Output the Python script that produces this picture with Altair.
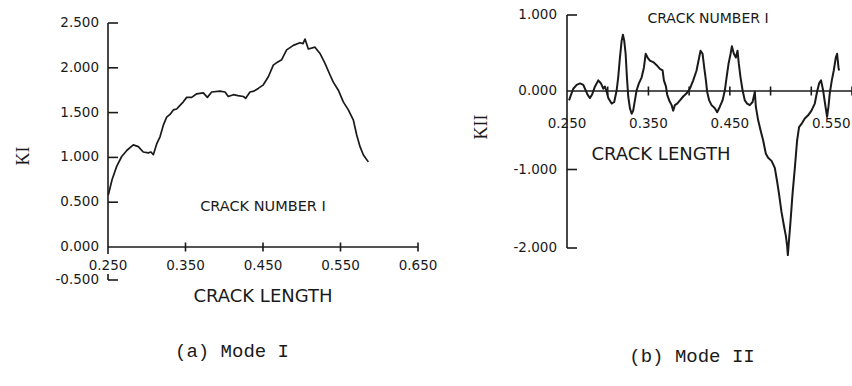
import altair as alt
import pandas as pd

INK = "#1a1a1a"
SANS = "DejaVu Sans"

# ---- Mode I (left panel) : crack length vs KI ----
LEFT_X = [0.2504, 0.2552, 0.2612, 0.2677, 0.2745, 0.2826, 0.2891, 0.2955, 0.3020,
          0.3055, 0.3085, 0.3128, 0.3171, 0.3214, 0.3257, 0.3300, 0.3343, 0.3386,
          0.3429, 0.3472, 0.3515, 0.3580, 0.3645, 0.3730, 0.3782, 0.3838, 0.3945,
          0.4010, 0.4052, 0.4117, 0.4177, 0.4246, 0.4277, 0.4332, 0.4384, 0.4439,
          0.4504, 0.4569, 0.4633, 0.4681, 0.4741, 0.4805, 0.4891, 0.4977, 0.5016,
          0.5042, 0.5085, 0.5171, 0.5235, 0.5300, 0.5365, 0.5407, 0.5472, 0.5536,
          0.5601, 0.5665, 0.5709, 0.5752, 0.5794, 0.5859]
LEFT_KI = [0.58, 0.75, 0.90, 1.01, 1.08, 1.14, 1.12, 1.06, 1.05,
           1.06, 1.03, 1.15, 1.23, 1.36, 1.45, 1.48, 1.53, 1.54,
           1.58, 1.62, 1.67, 1.67, 1.71, 1.72, 1.67, 1.73, 1.74,
           1.73, 1.68, 1.70, 1.69, 1.68, 1.66, 1.73, 1.74, 1.77,
           1.81, 1.90, 2.03, 2.06, 2.09, 2.20, 2.25, 2.28, 2.27,
           2.32, 2.21, 2.23, 2.16, 2.05, 1.92, 1.84, 1.75, 1.62,
           1.53, 1.42, 1.25, 1.12, 1.03, 0.95]

# ---- Mode II (right panel) : crack length vs KII ----
RIGHT_X = [0.2525, 0.2549, 0.2577, 0.2619, 0.2660, 0.2700, 0.2729, 0.2754, 0.2782,
           0.2810, 0.2844, 0.2884, 0.2917, 0.2945, 0.2966, 0.2987, 0.3007, 0.3048,
           0.3080, 0.3110, 0.3129, 0.3150, 0.3171, 0.3187, 0.3203, 0.3220, 0.3236,
           0.3252, 0.3273, 0.3294, 0.3313, 0.3334, 0.3355, 0.3383, 0.3417, 0.3445,
           0.3466, 0.3490, 0.3518, 0.3559, 0.3601, 0.3641, 0.3674, 0.3690, 0.3715,
           0.3731, 0.3755, 0.3785, 0.3804, 0.3825, 0.3853, 0.3887, 0.3927, 0.3969,
           0.4009, 0.4050, 0.4091, 0.4123, 0.4140, 0.4165, 0.4185, 0.4206, 0.4221,
           0.4246, 0.4275, 0.4316, 0.4344, 0.4377, 0.4410, 0.4439, 0.4460, 0.4484,
           0.4509, 0.4525, 0.4549, 0.4574, 0.4594, 0.4610, 0.4631, 0.4656, 0.4684,
           0.4712, 0.4745, 0.4779, 0.4807, 0.4819, 0.4847, 0.4877, 0.4909, 0.4942,
           0.4970, 0.5012, 0.5052, 0.5080, 0.5105, 0.5134, 0.5163, 0.5187, 0.5203,
           0.5212, 0.5228, 0.5245, 0.5269, 0.5298, 0.5326, 0.5350, 0.5380, 0.5420,
           0.5461, 0.5502, 0.5543, 0.5571, 0.5596, 0.5620, 0.5645, 0.5669, 0.5694,
           0.5711, 0.5727, 0.5752, 0.5776, 0.5801, 0.5817, 0.5834, 0.5841]
RIGHT_KII = [-0.12, -0.05, 0.03, 0.08, 0.10, 0.08, 0.01, -0.05, -0.09,
             -0.04, 0.06, 0.14, 0.10, 0.03, 0.06, -0.01, -0.09, -0.16,
             -0.14, 0.01, 0.18, 0.44, 0.66, 0.74, 0.66, 0.49, 0.18,
             -0.07, -0.22, -0.29, -0.25, -0.12, 0.01, 0.10, 0.18, 0.31,
             0.49, 0.44, 0.40, 0.38, 0.34, 0.29, 0.27, 0.14, 0.06,
             -0.05, -0.12, -0.18, -0.25, -0.18, -0.16, -0.12, -0.07, -0.03,
             0.03, 0.14, 0.27, 0.44, 0.53, 0.49, 0.31, 0.14, -0.01,
             -0.12, -0.18, -0.22, -0.27, -0.20, -0.12, 0.01, 0.18, 0.36,
             0.49, 0.59, 0.49, 0.44, 0.53, 0.36, 0.18, 0.01, -0.12,
             -0.16, -0.18, -0.14, -0.01, -0.20, -0.37, -0.50, -0.63, -0.80,
             -0.85, -0.89, -0.98, -1.15, -1.32, -1.54, -1.71, -1.84, -1.97,
             -2.09, -1.88, -1.66, -1.32, -0.98, -0.63, -0.46, -0.42, -0.35,
             -0.31, -0.25, -0.16, -0.01, 0.10, 0.14, 0.01, -0.16, -0.33,
             -0.20, -0.03, 0.14, 0.27, 0.44, 0.49, 0.31, 0.27]

# ---- axis ticks and labels ----
LEFT_Y_TICKS = [-0.5, 0.0, 0.5, 1.0, 1.5, 2.0, 2.5]
LEFT_Y_LABELS = ["-0.500", "0.000", "0.500", "1.000", "1.500", "2.000", "2.500"]
LEFT_Y_TICK_MARKS = [-0.5, 0.5, 1.0, 1.5, 2.0, 2.5]
LEFT_X_TICKS = [0.25, 0.35, 0.45, 0.55, 0.65]
LEFT_X_LABELS = ["0.250", "0.350", "0.450", "0.550", "0.650"]
LEFT_X_TICK_MARKS = [0.35, 0.45, 0.55, 0.65]
RIGHT_Y_TICKS = [-2.0, -1.0, 0.0, 1.0]
RIGHT_Y_LABELS = ["-2.000", "-1.000", "0.000", "1.000"]
RIGHT_Y_TICK_MARKS = [-2.0, -1.0, 1.0]
RIGHT_X_TICKS = [0.25, 0.35, 0.45]
RIGHT_X_LABELS = ["0.250", "0.350", "0.450"]
RIGHT_X_TICKS_SHIFTED = [0.55]
RIGHT_X_LABELS_SHIFTED = ["0.550"]
RIGHT_X_TICK_MARKS = [0.30, 0.35, 0.40, 0.45, 0.50, 0.55, 0.60]

# scales placing each panel on the page
LXS = alt.Scale(domain=[0.25, 0.65], range=[108, 418], nice=False, zero=False)
LYS = alt.Scale(domain=[-0.5, 0.0, 2.5], range=[280, 247, 23], nice=False, zero=False)
RXS = alt.Scale(domain=[0.25, 0.60], range=[567, 852], nice=False, zero=False)
RYS = alt.Scale(domain=[-2.0, 0.0, 1.0], range=[248, 91, 15], nice=False, zero=False)


def enc_x(s, field="x"):
    return alt.X(f"{field}:Q", scale=s, axis=None)


def enc_y(s, field="y"):
    return alt.Y(f"{field}:Q", scale=s, axis=None)


def panel(xs, ys, xv, yv, y_ticks, y_labels, y_marks, x_ticks, x_labels, x_marks,
          x_end, y_lo, y_hi, x_label_dy, y_label_dx, width):
    curve = alt.Chart(pd.DataFrame({"x": xv, "y": yv})).mark_line(
        color=INK, strokeWidth=width, strokeJoin="round"
    ).encode(x=enc_x(xs), y=enc_y(ys))

    yaxis = alt.Chart(pd.DataFrame({"x": [0.25], "y": [y_lo], "y2": [y_hi]})).mark_rule(
        color=INK, strokeWidth=1.6
    ).encode(x=enc_x(xs), y=enc_y(ys), y2=alt.Y2("y2:Q"))

    xaxis = alt.Chart(pd.DataFrame({"x": [0.25], "x2": [x_end], "y": [0.0]})).mark_rule(
        color=INK, strokeWidth=1.6
    ).encode(x=enc_x(xs), x2=alt.X2("x2:Q"), y=enc_y(ys))

    yt = alt.Chart(pd.DataFrame({"x": [0.25] * len(y_marks), "y": y_marks})).mark_rule(
        color=INK, strokeWidth=1.6, x2Offset=10
    ).encode(x=enc_x(xs), x2=alt.X2("x:Q"), y=enc_y(ys))

    xt = alt.Chart(pd.DataFrame({"x": x_marks, "y": [0.0] * len(x_marks)})).mark_rule(
        color=INK, strokeWidth=1.6, yOffset=-4.5, y2Offset=4.5
    ).encode(x=enc_x(xs), y=enc_y(ys), y2=alt.Y2("y:Q"))

    ylab = alt.Chart(pd.DataFrame({"x": [0.25] * len(y_ticks), "y": y_ticks,
                                   "t": y_labels})).mark_text(
        align="right", baseline="middle", dx=y_label_dx, font=SANS, fontSize=13.5, color=INK
    ).encode(x=enc_x(xs), y=enc_y(ys), text="t:N")

    xlab = alt.Chart(pd.DataFrame({"x": x_ticks, "y": [0.0] * len(x_ticks),
                                   "t": x_labels})).mark_text(
        align="center", baseline="middle", dy=x_label_dy, font=SANS, fontSize=13.5, color=INK
    ).encode(x=enc_x(xs), y=enc_y(ys), text="t:N")

    return [curve, yaxis, xaxis, yt, xt, ylab, xlab]


left_layers = panel(LXS, LYS, LEFT_X, LEFT_KI, LEFT_Y_TICKS, LEFT_Y_LABELS, LEFT_Y_TICK_MARKS,
                    LEFT_X_TICKS, LEFT_X_LABELS, LEFT_X_TICK_MARKS, 0.65, 0.0, 2.5, 19, -9, 1.7)
right_layers = panel(RXS, RYS, RIGHT_X, RIGHT_KII, RIGHT_Y_TICKS, RIGHT_Y_LABELS,
                     RIGHT_Y_TICK_MARKS, RIGHT_X_TICKS, RIGHT_X_LABELS, RIGHT_X_TICK_MARKS,
                     0.60, -2.0, 1.0, 33, -10, 2.0)

# left y-axis stub below zero and the corner at -0.5
left_stub = alt.Chart(pd.DataFrame({"x": [0.25], "y": [0.0], "y2": [0.0]})).mark_rule(
    color=INK, strokeWidth=1.6, y2Offset=7
).encode(x=enc_x(LXS), y=enc_y(LYS), y2=alt.Y2("y2:Q"))
left_corner = alt.Chart(pd.DataFrame({"x": [0.25], "y": [-0.5], "y2": [-0.5]})).mark_rule(
    color=INK, strokeWidth=1.6, y2Offset=-6
).encode(x=enc_x(LXS), y=enc_y(LYS), y2=alt.Y2("y2:Q"))

# shifted 0.550 label on the right panel
r_lab55 = alt.Chart(pd.DataFrame({"x": RIGHT_X_TICKS_SHIFTED, "y": [0.0],
                                  "t": RIGHT_X_LABELS_SHIFTED})).mark_text(
    align="center", baseline="middle", dx=20, dy=33, font=SANS, fontSize=13.5, color=INK
).encode(x=enc_x(RXS), y=enc_y(RYS), text="t:N")


def label(txt, x, y, size, font=SANS, angle=0):
    return alt.Chart(pd.DataFrame({"t": [txt]})).mark_text(
        align="center", baseline="middle", font=font, fontSize=size, color=INK, angle=angle
    ).encode(text="t:N", x=alt.value(x), y=alt.value(y))


texts = [
    label("CRACK NUMBER I", 263, 207, 14.5),
    label("CRACK LENGTH", 263, 297, 18),
    label("KI", 24, 156, 18, font="Liberation Serif", angle=270),
    label("CRACK NUMBER I", 708, 19, 14),
    label("CRACK LENGTH", 661, 155, 18),
    label("KII", 482, 127, 18, font="Liberation Serif", angle=270),
    label("(a)  Mode I", 232, 351, 19, font="Liberation Mono"),
    label("(b)  Mode II", 692, 356, 19, font="Liberation Mono"),
]

chart = alt.layer(
    *left_layers, left_stub, left_corner, *right_layers, r_lab55, *texts
).resolve_scale(
    x="independent", y="independent"
).properties(
    width=852, height=386, padding=0, autosize=alt.AutoSizeParams(type="none"),
    background="white"
).configure_view(stroke=None)

chart.save("out.html", embed_options={"renderer": "svg", "actions": False})
